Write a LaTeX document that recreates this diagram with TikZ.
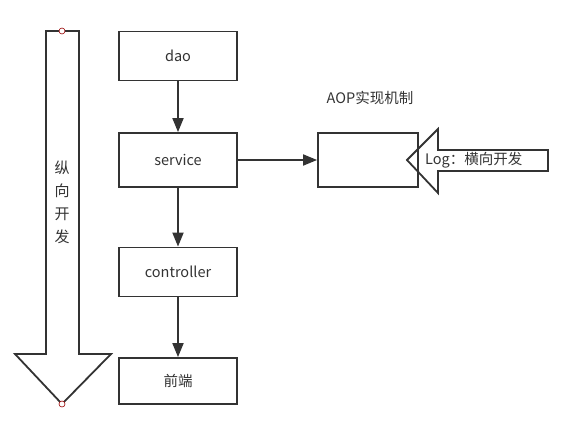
\documentclass[tikz,border=0pt]{standalone}
\usepackage{fontspec}
\setmainfont{Noto Sans CJK SC}
\usetikzlibrary{arrows.meta}
\definecolor{ln}{HTML}{333333}
\tikzset{
  box/.style={draw=ln,line width=1.8pt,minimum width=118pt,minimum height=49pt,inner sep=0pt,font=\fontsize{14.5}{16}\selectfont,text=ln},
  conn/.style={draw=ln,line width=1.8pt,-{Triangle[length=14pt,width=11pt]}},
  blk/.style={draw=ln,line width=1.8pt,line join=miter},
  lbl/.style={font=\fontsize{14.5}{16}\selectfont,text=ln,inner sep=0pt},
  dot/.style={circle,draw=red!60!black,fill=white,line width=0.6pt,minimum size=6pt,inner sep=0pt}
}
\begin{document}
\begin{tikzpicture}[x=1pt,y=-1pt]
\useasboundingbox (0,0) rectangle (565,429);
% vertical block arrow
\draw[blk] (46,31) -- (79,31) -- (79,354) -- (111,354) -- (62,404) -- (15,354) -- (46,354) -- cycle;
\node[lbl,align=center,font=\fontsize{15}{23}\selectfont] (vert) at (62,202) {纵\\向\\开\\发};
\node[dot] (dtop) at (62,31) {};
\node[dot] (dbot) at (62,404) {};
% boxes
\node[box] (dao) at (178,56) {dao};
\node[box,minimum height=54pt] (service) at (178,160) {service};
\node[box] (controller) at (178,272) {controller};
\node[box,minimum height=46pt] (front) at (178,381) {前端};
\draw[conn] (dao) -- (service);
\draw[conn] (service) -- (controller);
\draw[conn] (controller) -- (front);
% AOP
\node[lbl] (aoplbl) at (370,98) {AOP实现机制};
\draw[blk] (548,150) -- (438,150) -- (438,129) -- (407,160) -- (438,193) -- (438,171) -- (548,171) -- cycle;
\node[box,minimum width=100pt,minimum height=54pt] (aop) at (368,160) {};
\node[lbl,anchor=west] (log) at (425,160) {Log：横向开发};
\draw[conn] (service) -- (aop);
\end{tikzpicture}
\end{document}
